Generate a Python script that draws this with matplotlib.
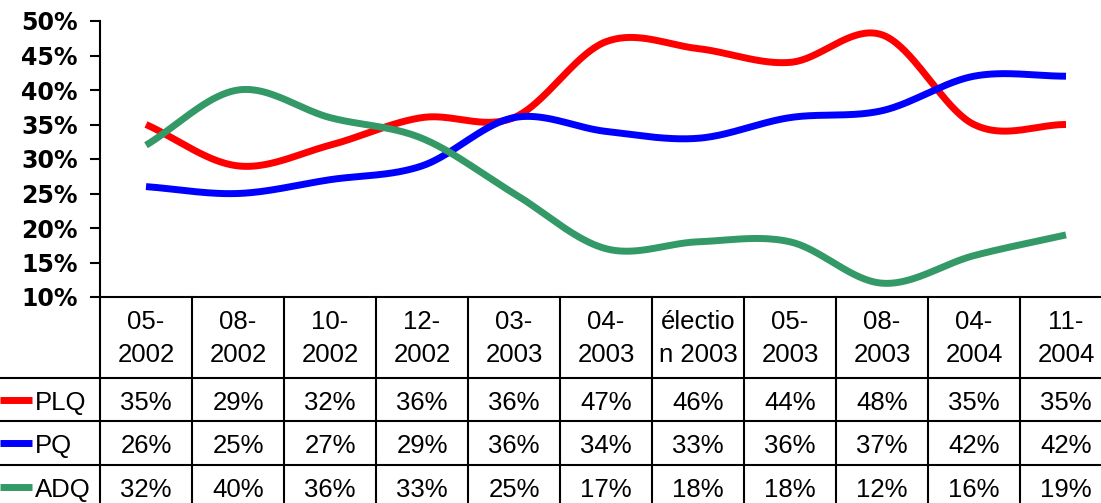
import numpy as np
import matplotlib.pyplot as plt
from matplotlib.transforms import blended_transform_factory

categories = ['05-\n2002', '08-\n2002', '10-\n2002', '12-\n2002', '03-\n2003', '04-\n2003',
              'électio\nn 2003', '05-\n2003', '08-\n2003', '04-\n2004', '11-\n2004']
plq = [35, 29, 32, 36, 36, 47, 46, 44, 48, 35, 35]
pq = [26, 25, 27, 29, 36, 34, 33, 36, 37, 42, 42]
adq = [32, 40, 36, 33, 25, 17, 18, 18, 12, 16, 19]
series_names = ['PLQ', 'PQ', 'ADQ']
colors = ['#FF0000', '#0000FF', '#339966']
yticks = [10, 15, 20, 25, 30, 35, 40, 45, 50]

W, H = 1101, 503


def smooth(y, n=40):
    # catmull-rom curve through the points, close to Excel's "smoothed line"
    y = np.asarray(y, float)
    p = np.concatenate([[2 * y[0] - y[1]], y, [2 * y[-1] - y[-2]]])
    t = np.linspace(0, 1, n, endpoint=False)
    xs, ys = [], []
    for i in range(len(y) - 1):
        p0, p1, p2, p3 = p[i:i + 4]
        ys.append(0.5 * (2 * p1 + (-p0 + p2) * t + (2 * p0 - 5 * p1 + 4 * p2 - p3) * t ** 2
                         + (-p0 + 3 * p1 - 3 * p2 + p3) * t ** 3))
        xs.append(i + t)
    xs.append([len(y) - 1])
    ys.append([y[-1]])
    return np.concatenate(xs), np.concatenate(ys)


fig = plt.figure(figsize=(W / 100, H / 100), dpi=100)
# axes runs a bit past the right edge, like the cropped original
ax = fig.add_axes([100 / W, 1 - 297 / H, 1012 / W, 276 / H])

for vals, c in zip([plq, pq, adq], colors):
    sx, sy = smooth(vals)
    ax.plot(sx, sy, color=c, lw=5, solid_capstyle='butt')

ax.set_xlim(-0.5, 10.5)
ax.set_ylim(10, 50)
ax.set_yticks(yticks)
ax.set_yticklabels([f'{v}%' for v in yticks], fontsize=17, fontweight='bold',
                   family='DejaVu Sans')
ax.set_xticks([])
ax.tick_params(axis='y', direction='out', length=7, width=1.5, pad=9)
for s in ['top', 'right']:
    ax.spines[s].set_visible(False)
for s in ['left', 'bottom']:
    ax.spines[s].set_linewidth(1.5)

# data table under the chart
tr = blended_transform_factory(ax.transData, fig.transFigure)
def fy(py):
    return 1 - py / H

x_left = -0.5 - 100 / 92
x_right = 10.5 + 1
for k in range(12):
    ax.plot([k - 0.5, k - 0.5], [fy(297), fy(H + 10)], color='black', lw=1.5,
            transform=tr, clip_on=False)
for py in [378, 421, 465]:
    ax.plot([x_left, x_right], [fy(py), fy(py)], color='black', lw=1.5,
            transform=tr, clip_on=False)

tfont = dict(family='Liberation Sans', fontsize=18.5)
for i, cat in enumerate(categories):
    top, bot = cat.split('\n')
    ax.text(i, fy(322), top, ha='center', va='center', transform=tr, **tfont)
    ax.text(i, fy(355), bot, ha='center', va='center', transform=tr, **tfont)

row_y = [403, 446, 490]
key_y = [400, 443, 487]
for name, vals, c, ry, ky in zip(series_names, [plq, pq, adq], colors, row_y, key_y):
    ax.plot([x_left, x_left + 32 / 92], [fy(ky), fy(ky)], color=c, lw=5,
            solid_capstyle='butt', transform=tr, clip_on=False)
    ax.text(x_left + 35 / 92, fy(ry), name, ha='left', va='center', transform=tr, **tfont)
    for i, v in enumerate(vals):
        ax.text(i, fy(ry), f'{v}%', ha='center', va='center', transform=tr, **tfont)

fig.savefig('out.png', dpi=100)
